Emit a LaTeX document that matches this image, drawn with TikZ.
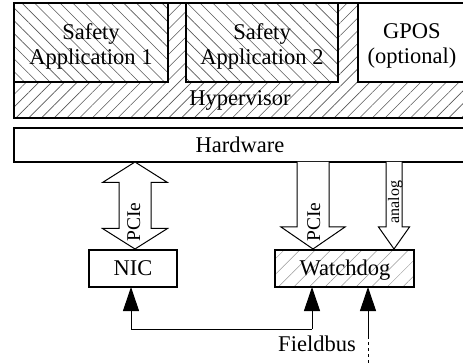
\documentclass[tikz,border=0pt]{standalone}
\usepackage{fontspec}
\setmainfont{Liberation Serif}
\usetikzlibrary{patterns.meta,arrows.meta}
\begin{document}
\begin{tikzpicture}[x=1pt,y=-1pt,
  thickbox/.style={draw,line width=2pt,rectangle,inner sep=0pt,outer sep=0pt,anchor=north west},
  appbox/.style={draw,line width=1.5pt,rectangle,inner sep=0pt,outer sep=0pt,anchor=north west,preaction={fill=white}},
  hatchback/.style={pattern={Lines[angle=-45,distance=9pt,line width=0.6pt]},pattern color=black!65},
  hatchfwd/.style={pattern={Lines[angle=45,distance=9pt,line width=0.6pt]},pattern color=black!65},
  hatchlight/.style={pattern={Lines[angle=45,distance=11pt,line width=0.5pt]},pattern color=black!40},
  lbl/.style={font=\fontsize{22.5}{25}\selectfont,align=center,inner sep=0pt},
  plbl/.style={font=\fontsize{19.5}{22}\selectfont,inner sep=0pt,rotate=90,anchor=base},
  albl/.style={font=\fontsize{16}{18}\selectfont,inner sep=0pt,rotate=90,anchor=base},
  hollow/.style={draw,fill=white,line width=1pt,line join=miter},
  busline/.style={line width=1pt},
  bus/.style={line width=1pt,-{Triangle[length=24pt,width=16pt]}},
]
\useasboundingbox (0,0) rectangle (463,363);
\clip (0,0) rectangle (463,363);
% software stack
\node[thickbox,hatchfwd,preaction={fill=white},minimum width=452pt,minimum height=115pt] (hyp) at (14,3) {};
\node[appbox,hatchback,minimum width=154pt,minimum height=79pt] (app1) at (14,3) {};
\node[appbox,hatchback,minimum width=152pt,minimum height=79pt] (app2) at (186,3) {};
\node[appbox,minimum width=108pt,minimum height=79pt] (gpos) at (358,3) {};
\node[thickbox,line width=2.4pt,minimum width=452pt,minimum height=115pt] (hypb) at (14,3) {};
\node[lbl] (t1) at (91,46.3) {Safety\\Application 1};
\node[lbl] (t2) at (262,46.3) {Safety\\Application 2};
\node[lbl] (t3) at (412,46.3) {GPOS\\(optional)};
\node[lbl,anchor=base] (thyp) at (240,106) {Hypervisor};
% hardware
\node[thickbox,fill=white,minimum width=452pt,minimum height=34pt] (hw) at (14,128) {};
\node[lbl,anchor=base] (thw) at (240,152.5) {Hardware};
% devices
\node[thickbox,fill=white,minimum width=88pt,minimum height=37pt] (nic) at (89,250) {};
\node[lbl,anchor=base] (tnic) at (133,276) {NIC};
\node[thickbox,hatchlight,preaction={fill=white},minimum width=139pt,minimum height=37pt] (wd) at (275,250) {};
\node[lbl,anchor=base] (twd) at (345,276) {Watchdog};
% hollow arrows
\draw[hollow] (135,162) -- (167.5,182.5) -- (151,182.5) -- (151,228.5) -- (167.5,228.5) -- (135,249) -- (102.5,228.5) -- (119,228.5) -- (119,182.5) -- (102.5,182.5) -- cycle;
\node[plbl] (pcie1) at (140,222) {PCIe};
\draw[hollow] (297,162) -- (297,227) -- (281,227) -- (313,249) -- (345,227) -- (329,227) -- (329,162);
\node[plbl] (pcie2) at (320,222) {PCIe};
\draw[hollow] (386,162) -- (386,227) -- (378.5,227) -- (394,249) -- (409.5,227) -- (402,227) -- (402,162);
\node[albl] (analog) at (399,202) {analog};
% fieldbus
\coordinate (bl) at (131,329);
\coordinate (br) at (312,329);
\coordinate (fb) at (368,337);
\coordinate (fbend) at (368,363);
\draw[busline] (bl) -- (br);
\draw[bus] (bl) -- (bl |- nic.south);
\draw[bus] (br) -- (br |- wd.south);
\draw[bus] (fb) -- (fb |- wd.south);
\draw[busline,dash pattern=on 3pt off 3pt] (fbend) -- (fb);
\node[lbl,anchor=base] (tfb) at (317,351) {Fieldbus};
\end{tikzpicture}
\end{document}
